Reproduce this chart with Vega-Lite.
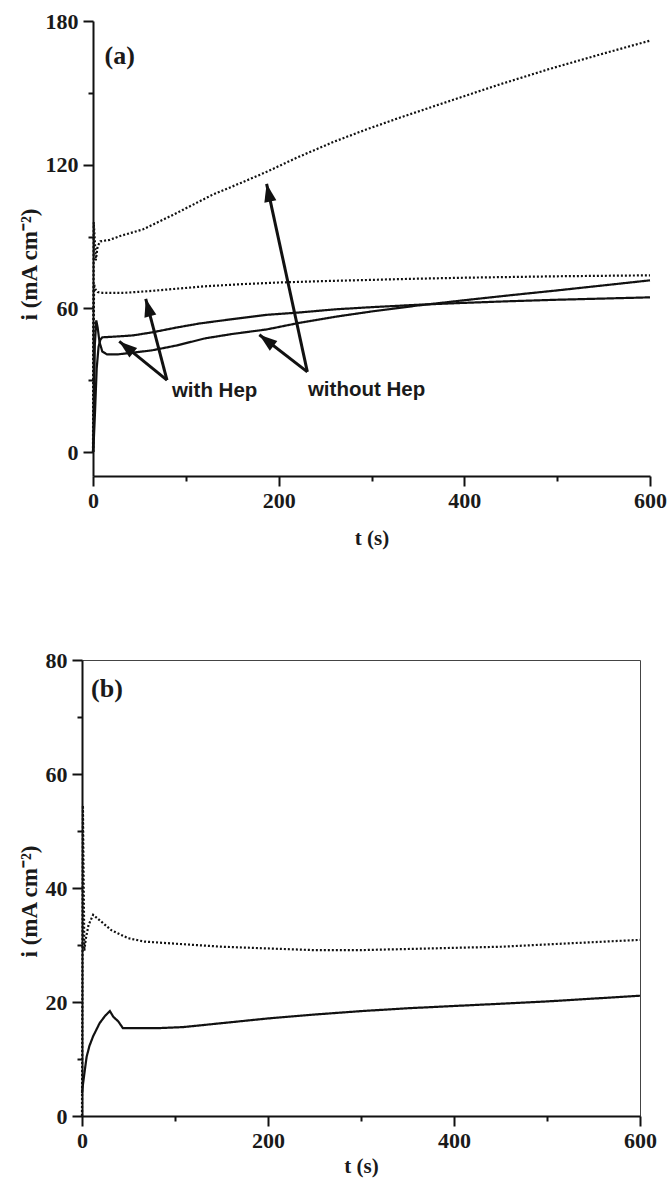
{
  "$schema": "https://vega.github.io/schema/vega-lite/v6.json",
  "background": "white",
  "padding": {"left": 17, "top": 10, "right": 5, "bottom": 5},
  "config": {
    "view": {"stroke": "#444", "strokeWidth": 1},
    "axis": {
      "grid": false,
      "domainColor": "#111",
      "domainWidth": 2,
      "tickColor": "#111",
      "tickWidth": 2,
      "labelFont": "Liberation Serif",
      "labelFontWeight": "bold",
      "labelFontSize": 22,
      "labelColor": "#1a1a1a",
      "titleFont": "Liberation Serif",
      "titleFontWeight": "bold",
      "titleFontSize": 21,
      "titleColor": "#1a1a1a",
      "labelOverlap": false,
      "labelFlush": false
    }
  },
  "datasets": {
    "a_curves": [
      {"curve": "without Hep, solid", "style": "solid", "t": 0, "i": 0},
      {"curve": "without Hep, solid", "style": "solid", "t": 1, "i": 20},
      {"curve": "without Hep, solid", "style": "solid", "t": 2, "i": 45},
      {"curve": "without Hep, solid", "style": "solid", "t": 3.5, "i": 55},
      {"curve": "without Hep, solid", "style": "solid", "t": 5, "i": 52},
      {"curve": "without Hep, solid", "style": "solid", "t": 7, "i": 46},
      {"curve": "without Hep, solid", "style": "solid", "t": 10, "i": 42},
      {"curve": "without Hep, solid", "style": "solid", "t": 15, "i": 40.8},
      {"curve": "without Hep, solid", "style": "solid", "t": 27, "i": 40.8},
      {"curve": "without Hep, solid", "style": "solid", "t": 43, "i": 41.5},
      {"curve": "without Hep, solid", "style": "solid", "t": 64, "i": 42.5},
      {"curve": "without Hep, solid", "style": "solid", "t": 90, "i": 44.5},
      {"curve": "without Hep, solid", "style": "solid", "t": 121, "i": 47.5},
      {"curve": "without Hep, solid", "style": "solid", "t": 150, "i": 49.3},
      {"curve": "without Hep, solid", "style": "solid", "t": 187, "i": 51.2},
      {"curve": "without Hep, solid", "style": "solid", "t": 223, "i": 54},
      {"curve": "without Hep, solid", "style": "solid", "t": 261, "i": 56.5},
      {"curve": "without Hep, solid", "style": "solid", "t": 300, "i": 58.7},
      {"curve": "without Hep, solid", "style": "solid", "t": 350, "i": 61.2},
      {"curve": "without Hep, solid", "style": "solid", "t": 400, "i": 63.4},
      {"curve": "without Hep, solid", "style": "solid", "t": 450, "i": 65.5},
      {"curve": "without Hep, solid", "style": "solid", "t": 500, "i": 67.5},
      {"curve": "without Hep, solid", "style": "solid", "t": 550, "i": 69.6},
      {"curve": "without Hep, solid", "style": "solid", "t": 600, "i": 71.7},

      {"curve": "with Hep, solid", "style": "solid", "t": 0.3, "i": 0},
      {"curve": "with Hep, solid", "style": "solid", "t": 2, "i": 15},
      {"curve": "with Hep, solid", "style": "solid", "t": 4, "i": 35},
      {"curve": "with Hep, solid", "style": "solid", "t": 6, "i": 44},
      {"curve": "with Hep, solid", "style": "solid", "t": 8, "i": 47},
      {"curve": "with Hep, solid", "style": "solid", "t": 10, "i": 47.9},
      {"curve": "with Hep, solid", "style": "solid", "t": 27, "i": 48.3},
      {"curve": "with Hep, solid", "style": "solid", "t": 43, "i": 48.7},
      {"curve": "with Hep, solid", "style": "solid", "t": 64, "i": 50},
      {"curve": "with Hep, solid", "style": "solid", "t": 90, "i": 52},
      {"curve": "with Hep, solid", "style": "solid", "t": 115, "i": 53.7},
      {"curve": "with Hep, solid", "style": "solid", "t": 150, "i": 55.5},
      {"curve": "with Hep, solid", "style": "solid", "t": 187, "i": 57.3},
      {"curve": "with Hep, solid", "style": "solid", "t": 223, "i": 58.3},
      {"curve": "with Hep, solid", "style": "solid", "t": 261, "i": 59.6},
      {"curve": "with Hep, solid", "style": "solid", "t": 300, "i": 60.5},
      {"curve": "with Hep, solid", "style": "solid", "t": 350, "i": 61.5},
      {"curve": "with Hep, solid", "style": "solid", "t": 400, "i": 62.3},
      {"curve": "with Hep, solid", "style": "solid", "t": 450, "i": 63},
      {"curve": "with Hep, solid", "style": "solid", "t": 500, "i": 63.6},
      {"curve": "with Hep, solid", "style": "solid", "t": 550, "i": 64.1},
      {"curve": "with Hep, solid", "style": "solid", "t": 600, "i": 64.6},

      {"curve": "without Hep, dotted", "style": "dotted", "t": 0, "i": 0},
      {"curve": "without Hep, dotted", "style": "dotted", "t": 0.8, "i": 96},
      {"curve": "without Hep, dotted", "style": "dotted", "t": 2, "i": 88},
      {"curve": "without Hep, dotted", "style": "dotted", "t": 3, "i": 80},
      {"curve": "without Hep, dotted", "style": "dotted", "t": 5, "i": 86},
      {"curve": "without Hep, dotted", "style": "dotted", "t": 8, "i": 88},
      {"curve": "without Hep, dotted", "style": "dotted", "t": 18, "i": 88.6},
      {"curve": "without Hep, dotted", "style": "dotted", "t": 30, "i": 90.3},
      {"curve": "without Hep, dotted", "style": "dotted", "t": 54, "i": 93},
      {"curve": "without Hep, dotted", "style": "dotted", "t": 86, "i": 99},
      {"curve": "without Hep, dotted", "style": "dotted", "t": 129, "i": 107.5},
      {"curve": "without Hep, dotted", "style": "dotted", "t": 160, "i": 112.5},
      {"curve": "without Hep, dotted", "style": "dotted", "t": 187, "i": 117},
      {"curve": "without Hep, dotted", "style": "dotted", "t": 220, "i": 123},
      {"curve": "without Hep, dotted", "style": "dotted", "t": 259, "i": 129.5},
      {"curve": "without Hep, dotted", "style": "dotted", "t": 295, "i": 134.8},
      {"curve": "without Hep, dotted", "style": "dotted", "t": 331, "i": 139.7},
      {"curve": "without Hep, dotted", "style": "dotted", "t": 385, "i": 146.7},
      {"curve": "without Hep, dotted", "style": "dotted", "t": 438, "i": 153.5},
      {"curve": "without Hep, dotted", "style": "dotted", "t": 492, "i": 160},
      {"curve": "without Hep, dotted", "style": "dotted", "t": 546, "i": 166},
      {"curve": "without Hep, dotted", "style": "dotted", "t": 600, "i": 171.8},

      {"curve": "with Hep, dotted", "style": "dotted", "t": 0.2, "i": 0},
      {"curve": "with Hep, dotted", "style": "dotted", "t": 0.6, "i": 50},
      {"curve": "with Hep, dotted", "style": "dotted", "t": 1.2, "i": 70},
      {"curve": "with Hep, dotted", "style": "dotted", "t": 2.5, "i": 68},
      {"curve": "with Hep, dotted", "style": "dotted", "t": 5, "i": 66.8},
      {"curve": "with Hep, dotted", "style": "dotted", "t": 10, "i": 66.5},
      {"curve": "with Hep, dotted", "style": "dotted", "t": 34, "i": 66.5},
      {"curve": "with Hep, dotted", "style": "dotted", "t": 60, "i": 67.2},
      {"curve": "with Hep, dotted", "style": "dotted", "t": 90, "i": 68.2},
      {"curve": "with Hep, dotted", "style": "dotted", "t": 120, "i": 69.2},
      {"curve": "with Hep, dotted", "style": "dotted", "t": 160, "i": 70.1},
      {"curve": "with Hep, dotted", "style": "dotted", "t": 200, "i": 70.8},
      {"curve": "with Hep, dotted", "style": "dotted", "t": 250, "i": 71.4},
      {"curve": "with Hep, dotted", "style": "dotted", "t": 300, "i": 71.9},
      {"curve": "with Hep, dotted", "style": "dotted", "t": 350, "i": 72.4},
      {"curve": "with Hep, dotted", "style": "dotted", "t": 400, "i": 72.8},
      {"curve": "with Hep, dotted", "style": "dotted", "t": 450, "i": 73.1},
      {"curve": "with Hep, dotted", "style": "dotted", "t": 500, "i": 73.4},
      {"curve": "with Hep, dotted", "style": "dotted", "t": 550, "i": 73.6},
      {"curve": "with Hep, dotted", "style": "dotted", "t": 600, "i": 73.8}
    ],
    "a_arrows": [
      {"arrow": "A1", "t": 79.7, "i": 30, "t2": 28.3, "i2": 46.2},
      {"arrow": "A2", "t": 79.7, "i": 30, "t2": 56.8, "i2": 64},
      {"arrow": "A3", "t": 230.9, "i": 33.5, "t2": 179.2, "i2": 49},
      {"arrow": "A4", "t": 230.9, "i": 33.5, "t2": 187, "i2": 112}
    ],
    "b_curves": [
      {"curve": "solid", "style": "solid", "t": 0, "i": 4},
      {"curve": "solid", "style": "solid", "t": 1, "i": 5.5},
      {"curve": "solid", "style": "solid", "t": 3, "i": 8},
      {"curve": "solid", "style": "solid", "t": 5, "i": 10.4},
      {"curve": "solid", "style": "solid", "t": 8, "i": 12.3},
      {"curve": "solid", "style": "solid", "t": 12, "i": 14},
      {"curve": "solid", "style": "solid", "t": 19, "i": 16.3},
      {"curve": "solid", "style": "solid", "t": 25, "i": 17.6},
      {"curve": "solid", "style": "solid", "t": 30, "i": 18.4},
      {"curve": "solid", "style": "solid", "t": 33.7, "i": 17.4},
      {"curve": "solid", "style": "solid", "t": 39, "i": 16.6},
      {"curve": "solid", "style": "solid", "t": 44, "i": 15.4},
      {"curve": "solid", "style": "solid", "t": 60, "i": 15.4},
      {"curve": "solid", "style": "solid", "t": 80, "i": 15.4},
      {"curve": "solid", "style": "solid", "t": 109, "i": 15.6},
      {"curve": "solid", "style": "solid", "t": 145, "i": 16.2},
      {"curve": "solid", "style": "solid", "t": 199, "i": 17.1},
      {"curve": "solid", "style": "solid", "t": 250, "i": 17.8},
      {"curve": "solid", "style": "solid", "t": 300, "i": 18.4},
      {"curve": "solid", "style": "solid", "t": 350, "i": 18.9},
      {"curve": "solid", "style": "solid", "t": 400, "i": 19.3},
      {"curve": "solid", "style": "solid", "t": 451, "i": 19.7},
      {"curve": "solid", "style": "solid", "t": 500, "i": 20.1},
      {"curve": "solid", "style": "solid", "t": 550, "i": 20.6},
      {"curve": "solid", "style": "solid", "t": 600, "i": 21.1},

      {"curve": "dotted", "style": "dotted", "t": 0, "i": 0},
      {"curve": "dotted", "style": "dotted", "t": 1, "i": 54.5},
      {"curve": "dotted", "style": "dotted", "t": 2.5, "i": 29},
      {"curve": "dotted", "style": "dotted", "t": 4, "i": 31},
      {"curve": "dotted", "style": "dotted", "t": 7, "i": 33.5},
      {"curve": "dotted", "style": "dotted", "t": 12, "i": 35.3},
      {"curve": "dotted", "style": "dotted", "t": 20, "i": 34.2},
      {"curve": "dotted", "style": "dotted", "t": 31.5, "i": 32.6},
      {"curve": "dotted", "style": "dotted", "t": 49.5, "i": 31.2},
      {"curve": "dotted", "style": "dotted", "t": 67, "i": 30.6},
      {"curve": "dotted", "style": "dotted", "t": 103, "i": 30.2},
      {"curve": "dotted", "style": "dotted", "t": 150, "i": 29.7},
      {"curve": "dotted", "style": "dotted", "t": 199, "i": 29.4},
      {"curve": "dotted", "style": "dotted", "t": 250, "i": 29.1},
      {"curve": "dotted", "style": "dotted", "t": 300, "i": 29.1},
      {"curve": "dotted", "style": "dotted", "t": 350, "i": 29.3},
      {"curve": "dotted", "style": "dotted", "t": 400, "i": 29.5},
      {"curve": "dotted", "style": "dotted", "t": 451, "i": 29.7},
      {"curve": "dotted", "style": "dotted", "t": 500, "i": 30.1},
      {"curve": "dotted", "style": "dotted", "t": 550, "i": 30.5},
      {"curve": "dotted", "style": "dotted", "t": 600, "i": 30.9}
    ]
  },
  "vconcat": [
    {
      "width": 568,
      "height": 455,
      "view": {"stroke": null},
      "layer": [
        {
          "data": {"name": "a_curves"},
          "mark": {"type": "line", "color": "#111", "strokeWidth": 2.2, "strokeCap": "butt"},
          "encoding": {
            "x": {
              "field": "t", "type": "quantitative",
              "scale": {"domain": [0, 600], "nice": false, "zero": false, "range": [11, 568]},
              "axis": {
                "values": [0, 100, 200, 300, 400, 500, 600],
                "labelExpr": "datum.value % 200 === 0 ? datum.label : ''",
                "tickSize": {"condition": {"test": "datum.value % 200 === 0", "value": 10}, "value": 5},
                "labelPadding": 4,
                "title": "t (s)",
                "titleX": 289.5,
                "titlePadding": 16
              }
            },
            "y": {
              "field": "i", "type": "quantitative",
              "scale": {"domain": [-10, 180], "nice": false, "zero": false},
              "axis": {
                "offset": -11,
                "values": [0, 30, 60, 90, 120, 150, 180],
                "labelExpr": "datum.value % 60 === 0 ? datum.label : ''",
                "tickSize": {"condition": {"test": "datum.value % 60 === 0", "value": 10}, "value": 5},
                "labelPadding": 5,
                "title": "i (mA cm⁻²)",
                "titleFontSize": 23,
                "titleY": 243,
                "titlePadding": 4
              }
            },
            "detail": {"field": "curve", "type": "nominal"},
            "strokeDash": {
              "field": "style", "type": "nominal",
              "scale": {"domain": ["solid", "dotted"], "range": [[1, 0], [2, 2]]},
              "legend": null
            }
          }
        },
        {
          "mark": {"type": "rule", "color": "#444", "strokeWidth": 1},
          "encoding": {
            "x": {"datum": 0, "type": "quantitative"},
            "x2": {"datum": 600},
            "y": {"datum": 180, "type": "quantitative"}
          }
        },
        {
          "mark": {"type": "rule", "color": "#444", "strokeWidth": 1},
          "encoding": {
            "x": {"datum": 600, "type": "quantitative"},
            "y": {"datum": -10, "type": "quantitative"},
            "y2": {"datum": 180}
          }
        },
        {
          "data": {"name": "a_arrows"},
          "mark": {"type": "rule", "color": "#111", "strokeWidth": 3},
          "encoding": {
            "x": {"field": "t", "type": "quantitative"},
            "y": {"field": "i", "type": "quantitative"},
            "x2": {"field": "t2"},
            "y2": {"field": "i2"}
          }
        },
        {
          "data": {"name": "a_arrows"},
          "transform": [{"filter": "datum.arrow === 'A1'"}],
          "mark": {"type": "point", "shape": "M0,0L0.34,1L-0.34,1Z", "filled": true, "color": "#111", "opacity": 1, "size": 1300, "angle": 309},
          "encoding": {
            "x": {"field": "t2", "type": "quantitative"},
            "y": {"field": "i2", "type": "quantitative"}
          }
        },
        {
          "data": {"name": "a_arrows"},
          "transform": [{"filter": "datum.arrow === 'A2'"}],
          "mark": {"type": "point", "shape": "M0,0L0.34,1L-0.34,1Z", "filled": true, "color": "#111", "opacity": 1, "size": 1300, "angle": 345},
          "encoding": {
            "x": {"field": "t2", "type": "quantitative"},
            "y": {"field": "i2", "type": "quantitative"}
          }
        },
        {
          "data": {"name": "a_arrows"},
          "transform": [{"filter": "datum.arrow === 'A3'"}],
          "mark": {"type": "point", "shape": "M0,0L0.34,1L-0.34,1Z", "filled": true, "color": "#111", "opacity": 1, "size": 1300, "angle": 308},
          "encoding": {
            "x": {"field": "t2", "type": "quantitative"},
            "y": {"field": "i2", "type": "quantitative"}
          }
        },
        {
          "data": {"name": "a_arrows"},
          "transform": [{"filter": "datum.arrow === 'A4'"}],
          "mark": {"type": "point", "shape": "M0,0L0.34,1L-0.34,1Z", "filled": true, "color": "#111", "opacity": 1, "size": 1300, "angle": 348},
          "encoding": {
            "x": {"field": "t2", "type": "quantitative"},
            "y": {"field": "i2", "type": "quantitative"}
          }
        },
        {
          "data": {"values": [{"t": 85, "i": 23, "label": "with Hep"}, {"t": 231.5, "i": 23.5, "label": "without Hep"}]},
          "mark": {"type": "text", "align": "left", "baseline": "alphabetic", "font": "Liberation Sans", "fontWeight": "bold", "fontSize": 20.5, "color": "#1a1a1a"},
          "encoding": {
            "x": {"field": "t", "type": "quantitative"},
            "y": {"field": "i", "type": "quantitative"},
            "text": {"field": "label"}
          }
        },
        {
          "data": {"values": [{"t": 12.5, "i": 165.5, "label": "(a)"}]},
          "mark": {"type": "text", "align": "left", "baseline": "middle", "font": "Liberation Serif", "fontWeight": "bold", "fontSize": 26, "color": "#1a1a1a"},
          "encoding": {
            "x": {"field": "t", "type": "quantitative"},
            "y": {"field": "i", "type": "quantitative"},
            "text": {"field": "label"}
          }
        }
      ]
    },
    {
      "width": 558,
      "height": 456,
      "layer": [
        {
          "data": {"name": "b_curves"},
          "mark": {"type": "line", "color": "#111", "strokeWidth": 2.2, "strokeCap": "butt"},
          "encoding": {
            "x": {
              "field": "t", "type": "quantitative",
              "scale": {"domain": [0, 600], "nice": false, "zero": false},
              "axis": {
                "values": [0, 100, 200, 300, 400, 500, 600],
                "labelExpr": "datum.value % 200 === 0 ? datum.label : ''",
                "tickSize": {"condition": {"test": "datum.value % 200 === 0", "value": 10}, "value": 5},
                "labelPadding": 4,
                "title": "t (s)",
                "titlePadding": 4
              }
            },
            "y": {
              "field": "i", "type": "quantitative",
              "scale": {"domain": [0, 80], "nice": false, "zero": false},
              "axis": {
                "values": [0, 10, 20, 30, 40, 50, 60, 70, 80],
                "labelExpr": "datum.value % 20 === 0 ? datum.label : ''",
                "tickSize": {"condition": {"test": "datum.value % 20 === 0", "value": 10}, "value": 5},
                "labelPadding": 5,
                "title": "i (mA cm⁻²)",
                "titleFontSize": 23,
                "titleY": 241,
                "titlePadding": 4
              }
            },
            "detail": {"field": "curve", "type": "nominal"},
            "strokeDash": {
              "field": "style", "type": "nominal",
              "scale": {"domain": ["solid", "dotted"], "range": [[1, 0], [2, 2]]},
              "legend": null
            }
          }
        },
        {
          "data": {"values": [{"t": 9.7, "i": 75, "label": "(b)"}]},
          "mark": {"type": "text", "align": "left", "baseline": "middle", "font": "Liberation Serif", "fontWeight": "bold", "fontSize": 26, "color": "#1a1a1a"},
          "encoding": {
            "x": {"field": "t", "type": "quantitative"},
            "y": {"field": "i", "type": "quantitative"},
            "text": {"field": "label"}
          }
        }
      ]
    }
  ],
  "spacing": 100
}
